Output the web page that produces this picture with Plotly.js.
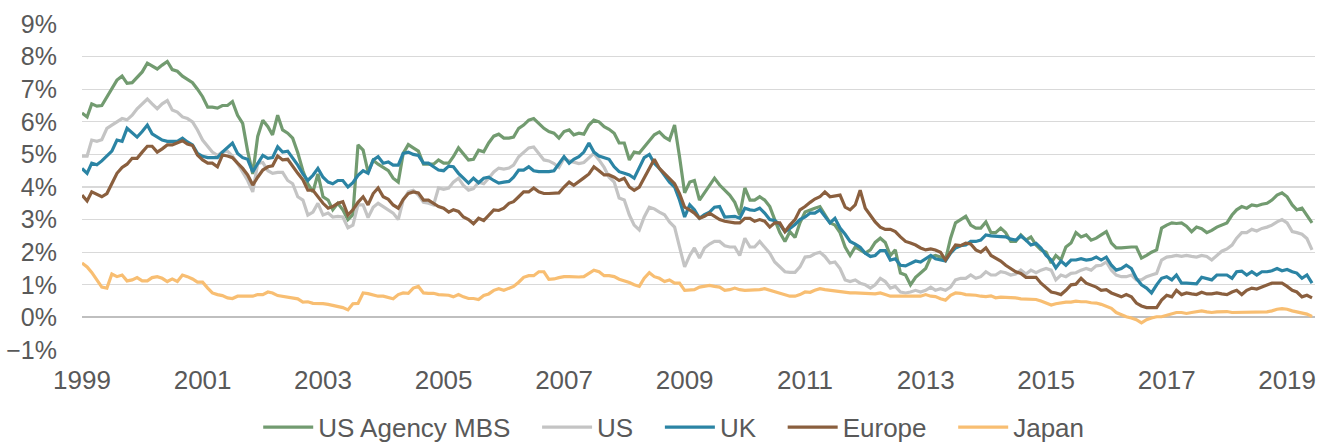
<!DOCTYPE html>
<html>
<head>
<meta charset="utf-8">
<script src="https://cdn.plot.ly/plotly-3.0.1.min.js"></script>
<style>html,body{margin:0;padding:0;background:#fff;}#chart{width:1321px;height:444px;}</style>
</head>
<body>
<div id="chart"></div>
<script>
// Monthly observations, Jan 1999 – Jun 2019 (yield, %)
const seriesNames = ["US Agency MBS", "US", "UK", "Europe", "Japan"];
const seriesColors = ["#729B70", "#C4C4C4", "#2B84A4", "#8A5F3E", "#F8BE72"];
const startYear = 1999, startMonth = 1;

const usAgencyMBS = [
  6.27,6.15,6.55,6.48,6.5,6.75,7.0,7.28,7.4,7.18,7.2,7.36,
  7.53,7.8,7.71,7.62,7.74,7.85,7.6,7.55,7.4,7.3,7.2,7.0,
  6.77,6.45,6.45,6.42,6.5,6.5,6.62,6.2,5.95,5.1,4.4,5.55,
  6.05,5.85,5.6,6.2,5.75,5.65,5.5,5.05,4.5,4.1,3.85,4.4,
  3.7,3.6,3.3,3.5,3.3,3.0,3.15,5.29,5.13,4.46,4.82,4.7,
  4.6,4.5,4.27,4.15,5.03,5.3,5.2,5.1,4.7,4.7,4.7,4.83,
  4.73,4.73,4.93,5.2,5.03,4.83,4.85,5.13,5.08,5.35,5.56,5.62,
  5.5,5.5,5.53,5.8,5.9,6.05,6.1,5.95,5.8,5.7,5.65,5.5,
  5.7,5.75,5.6,5.65,5.62,5.9,6.05,6.0,5.85,5.77,5.65,5.35,
  5.35,4.83,5.07,5.04,5.23,5.44,5.6,5.69,5.53,5.44,5.9,4.93,
  3.82,4.15,4.2,3.6,3.82,4.06,4.27,4.06,3.9,3.75,3.53,3.14,
  3.97,3.6,3.6,3.7,3.6,3.4,3.0,2.6,2.33,2.63,2.45,2.9,
  3.23,3.3,3.35,3.4,3.14,2.9,2.83,2.6,2.16,1.9,2.16,2.07,
  1.97,2.07,2.3,2.43,2.3,1.9,2.07,1.36,1.3,1.0,1.23,1.36,
  1.5,1.85,1.9,1.85,1.76,2.43,2.9,3.0,3.1,2.83,2.74,2.74,
  2.93,2.6,2.6,2.74,2.6,2.33,2.33,2.53,2.37,2.47,2.22,2.07,
  2.0,1.67,1.9,1.76,2.16,2.28,2.6,2.47,2.53,2.37,2.43,2.53,
  2.63,2.28,2.13,2.13,2.15,2.16,2.16,1.82,1.9,2.0,2.07,2.74,
  2.83,2.9,2.88,2.9,2.8,2.63,2.77,2.72,2.6,2.67,2.77,2.83,
  2.9,3.14,3.3,3.4,3.35,3.45,3.42,3.47,3.5,3.6,3.75,3.82,
  3.7,3.45,3.3,3.35,3.14,2.9
];

const us = [
  4.95,4.95,5.44,5.4,5.45,5.8,5.9,6.0,6.1,6.06,6.2,6.4,
  6.55,6.7,6.55,6.4,6.55,6.65,6.36,6.3,6.15,6.1,6.0,5.75,
  5.44,5.23,5.07,4.97,5.07,5.1,4.95,4.72,4.46,4.2,3.85,4.72,
  4.75,4.5,4.42,4.45,4.45,4.2,4.1,3.7,3.6,3.14,3.23,3.5,
  3.14,3.2,3.08,3.1,3.08,2.75,2.83,3.45,3.45,3.06,3.38,3.5,
  3.4,3.3,3.2,3.0,3.6,3.85,3.9,3.75,3.53,3.5,3.45,3.97,
  3.93,3.97,4.15,4.27,4.05,3.9,3.95,4.15,4.1,4.27,4.46,4.58,
  4.55,4.58,4.67,4.93,5.07,5.2,5.23,5.03,4.83,4.8,4.72,4.6,
  4.88,4.8,4.75,4.72,4.75,4.88,5.03,4.83,4.6,4.3,4.15,3.66,
  3.6,3.14,2.83,2.68,3.08,3.38,3.33,3.23,3.15,2.93,2.77,2.16,
  1.55,1.9,2.13,1.82,2.13,2.25,2.33,2.33,2.2,2.16,2.16,1.9,
  2.43,2.16,2.16,2.33,2.16,1.97,1.7,1.55,1.4,1.38,1.38,1.55,
  1.85,1.87,1.95,2.0,1.87,1.67,1.7,1.5,1.15,1.1,1.15,1.05,
  1.0,0.9,1.0,1.2,1.1,0.9,0.95,0.78,0.75,0.78,0.83,0.78,
  0.83,0.93,0.83,0.88,0.83,0.93,1.15,1.2,1.2,1.3,1.2,1.25,
  1.4,1.3,1.3,1.4,1.37,1.3,1.33,1.45,1.33,1.45,1.37,1.45,
  1.5,1.45,1.15,1.3,1.25,1.35,1.37,1.45,1.5,1.45,1.58,1.6,
  1.7,1.45,1.3,1.25,1.25,1.3,1.15,1.15,1.25,1.3,1.35,1.76,
  1.85,1.87,1.9,1.87,1.9,1.87,1.85,1.9,1.87,1.76,1.9,2.03,
  2.1,2.22,2.43,2.6,2.6,2.7,2.65,2.73,2.77,2.83,2.93,3.0,
  2.9,2.63,2.6,2.55,2.42,2.07
];

const uk = [
  4.57,4.42,4.73,4.68,4.8,4.97,5.1,5.44,5.4,5.8,5.65,5.53,
  5.7,5.9,5.63,5.53,5.44,5.4,5.4,5.4,5.5,5.38,5.29,5.03,
  4.94,4.9,4.9,4.9,5.07,5.23,5.35,5.03,4.9,4.85,4.46,4.72,
  4.97,4.88,4.9,5.23,5.07,5.1,4.9,4.67,4.4,4.2,4.36,4.57,
  4.3,4.15,4.1,4.2,4.2,4.0,4.13,4.36,4.5,4.42,4.83,4.93,
  4.73,4.77,4.67,4.67,5.03,5.07,5.0,4.97,4.73,4.73,4.62,4.52,
  4.5,4.64,4.62,4.42,4.27,4.12,4.27,4.13,4.27,4.3,4.2,4.12,
  4.15,4.17,4.3,4.52,4.52,4.62,4.5,4.47,4.47,4.47,4.5,4.73,
  4.93,4.73,4.85,4.93,5.07,5.35,5.07,4.95,4.9,4.85,4.62,4.47,
  4.42,4.37,4.27,4.57,4.9,5.0,4.73,4.57,4.36,4.15,4.0,3.6,
  3.08,3.45,3.3,3.04,3.15,3.23,3.38,3.4,3.08,3.08,3.1,3.04,
  3.35,3.3,3.28,3.35,3.2,3.0,2.97,2.85,2.63,2.73,2.85,3.0,
  3.08,3.2,3.2,3.3,3.1,2.9,3.04,2.74,2.55,2.33,2.25,2.15,
  1.97,1.87,1.9,2.05,2.05,1.76,1.8,1.6,1.58,1.65,1.73,1.7,
  1.8,1.9,1.8,1.76,1.73,1.97,2.13,2.2,2.22,2.33,2.33,2.37,
  2.53,2.5,2.48,2.48,2.47,2.4,2.37,2.5,2.37,2.22,2.27,2.13,
  1.9,1.76,1.52,1.73,1.6,1.76,1.76,1.8,1.76,1.78,1.85,1.76,
  1.85,1.6,1.45,1.5,1.6,1.5,1.2,1.0,0.9,0.75,1.0,1.2,
  1.25,1.15,1.3,1.05,1.05,1.03,1.03,1.23,1.2,1.15,1.3,1.3,
  1.3,1.2,1.4,1.42,1.3,1.4,1.3,1.4,1.4,1.43,1.5,1.43,
  1.47,1.4,1.36,1.2,1.3,1.05
];

const europe = [
  3.75,3.57,3.85,3.78,3.7,3.8,4.1,4.42,4.6,4.7,4.88,4.88,
  5.07,5.25,5.25,5.07,5.17,5.29,5.29,5.36,5.42,5.32,5.27,4.98,
  4.83,4.73,4.73,4.62,4.98,4.95,4.9,4.73,4.57,4.37,4.06,4.3,
  4.52,4.62,4.65,4.95,4.83,4.85,4.62,4.42,4.22,3.9,3.9,3.7,
  3.5,3.35,3.4,3.5,3.55,3.14,3.3,3.53,3.7,3.45,3.8,3.97,
  3.7,3.62,3.45,3.35,3.62,3.8,3.85,3.82,3.6,3.6,3.5,3.4,
  3.35,3.23,3.3,3.25,3.08,3.0,2.87,3.04,2.97,3.14,3.3,3.28,
  3.35,3.5,3.55,3.7,3.85,3.85,3.97,3.85,3.8,3.8,3.8,3.82,
  4.0,4.15,4.05,4.18,4.28,4.4,4.62,4.5,4.37,4.37,4.3,4.2,
  4.27,4.0,3.9,4.0,4.27,4.57,4.85,4.57,4.42,4.27,4.1,3.8,
  3.38,3.3,3.2,3.04,3.1,3.2,3.1,3.0,2.95,2.92,2.9,2.9,
  3.04,3.04,2.95,3.0,2.95,2.77,2.9,2.9,2.63,2.83,3.0,3.3,
  3.4,3.53,3.63,3.7,3.85,3.7,3.72,3.75,3.38,3.3,3.45,3.9,
  3.35,3.14,2.93,2.77,2.7,2.7,2.63,2.47,2.33,2.28,2.22,2.13,
  2.07,2.1,2.07,2.0,1.76,2.0,2.22,2.2,2.28,2.25,2.07,2.0,
  2.13,1.9,1.82,1.73,1.6,1.5,1.4,1.35,1.23,1.23,1.23,1.05,
  0.9,0.78,0.75,0.7,0.83,1.0,1.02,1.2,1.05,1.0,0.93,0.83,
  0.85,0.75,0.68,0.63,0.7,0.63,0.44,0.35,0.3,0.3,0.3,0.53,
  0.68,0.63,0.83,0.7,0.75,0.72,0.7,0.77,0.72,0.72,0.75,0.72,
  0.7,0.78,0.83,0.7,0.83,0.9,0.87,0.93,0.98,1.05,1.05,1.05,
  0.95,0.83,0.78,0.63,0.68,0.6
];

const japan = [
  1.67,1.55,1.38,1.15,0.93,0.9,1.33,1.25,1.3,1.12,1.15,1.22,
  1.12,1.12,1.22,1.25,1.2,1.1,1.18,1.1,1.3,1.25,1.18,1.08,
  1.08,0.9,0.75,0.7,0.67,0.6,0.58,0.65,0.65,0.67,0.65,0.7,
  0.7,0.78,0.75,0.67,0.65,0.63,0.6,0.57,0.47,0.48,0.43,0.43,
  0.42,0.4,0.37,0.33,0.3,0.23,0.42,0.43,0.75,0.73,0.7,0.65,
  0.65,0.6,0.57,0.7,0.75,0.74,0.9,0.95,0.75,0.74,0.74,0.7,
  0.7,0.68,0.63,0.7,0.63,0.58,0.58,0.55,0.67,0.72,0.83,0.88,
  0.83,0.9,0.95,1.08,1.23,1.28,1.28,1.4,1.4,1.17,1.18,1.22,
  1.25,1.25,1.24,1.24,1.25,1.35,1.45,1.4,1.28,1.28,1.25,1.17,
  1.13,1.07,1.0,0.95,1.2,1.37,1.25,1.2,1.1,1.15,1.05,1.05,
  0.83,0.85,0.85,0.93,0.95,0.98,0.95,0.93,0.83,0.85,0.9,0.85,
  0.83,0.83,0.83,0.85,0.88,0.83,0.78,0.75,0.7,0.65,0.65,0.7,
  0.78,0.77,0.83,0.88,0.85,0.83,0.8,0.78,0.77,0.75,0.75,0.75,
  0.73,0.73,0.72,0.75,0.7,0.65,0.65,0.66,0.65,0.65,0.66,0.65,
  0.7,0.65,0.64,0.57,0.53,0.68,0.75,0.74,0.7,0.7,0.68,0.65,
  0.64,0.66,0.6,0.62,0.62,0.6,0.6,0.57,0.57,0.57,0.55,0.5,
  0.45,0.38,0.42,0.45,0.47,0.47,0.5,0.48,0.48,0.45,0.44,0.4,
  0.35,0.28,0.15,0.07,0.02,-0.02,-0.07,-0.17,-0.07,-0.02,0.02,0.02,
  0.07,0.12,0.15,0.15,0.12,0.15,0.17,0.2,0.17,0.15,0.17,0.17,
  0.18,0.15,0.15,0.15,0.15,0.15,0.15,0.17,0.17,0.2,0.25,0.27,
  0.25,0.2,0.17,0.15,0.1,0.03
];

const seriesValues = [usAgencyMBS, us, uk, europe, japan];

function monthDates(n) {
  const out = [];
  for (let i = 0; i < n; i++) {
    const y = startYear + Math.floor((startMonth - 1 + i) / 12);
    const m = ((startMonth - 1 + i) % 12) + 1;
    out.push(y + "-" + String(m).padStart(2, "0") + "-01");
  }
  return out;
}

const font = "Liberation Sans, Arial, sans-serif";
const legendPad = "\u00a0\u00a0\u00a0";
const traces = seriesValues.map((vals, i) => ({
  type: "scatter",
  mode: "lines",
  name: seriesNames[i] + (i < seriesNames.length - 1 ? legendPad : ""),
  x: monthDates(vals.length),
  y: vals,
  line: { color: seriesColors[i], width: 3.2 },
  hoverinfo: "skip"
}));

const layout = {
  width: 1321,
  height: 444,
  margin: { l: 82, r: 6, t: 24, b: 94, pad: 0, autoexpand: false },
  paper_bgcolor: "#ffffff",
  plot_bgcolor: "#ffffff",
  font: { family: font, color: "#595959", size: 25 },
  showlegend: true,
  legend: {
    orientation: "h",
    xref: "container",
    yref: "container",
    x: 0.51,
    xanchor: "center",
    y: 0.038,
    yanchor: "middle",
    font: { family: font, size: 26, color: "#595959" },
    itemwidth: 50,
    traceorder: "normal"
  },
  xaxis: {
    type: "date",
    range: ["1999-01-01", "2019-06-19"],
    tick0: "1999-01-01",
    dtick: "M24",
    tickformat: "%Y",
    showgrid: false,
    zeroline: false,
    showline: false,
    ticks: "",
    ticklabelstandoff: 12,
    tickfont: { family: font, size: 26, color: "#595959" }
  },
  yaxis: {
    range: [-1, 9],
    dtick: 1,
    tick0: 0,
    ticksuffix: "%",
    showgrid: true,
    gridcolor: "#D9D9D9",
    gridwidth: 1.3,
    zeroline: true,
    zerolinecolor: "#BFBFBF",
    zerolinewidth: 2,
    showline: false,
    ticks: "",
    ticklabelstandoff: 24,
    tickfont: { family: font, size: 25, color: "#595959" }
  }
};

Plotly.newPlot("chart", traces, layout, { staticPlot: true, displayModeBar: false });
</script>
</body>
</html>
